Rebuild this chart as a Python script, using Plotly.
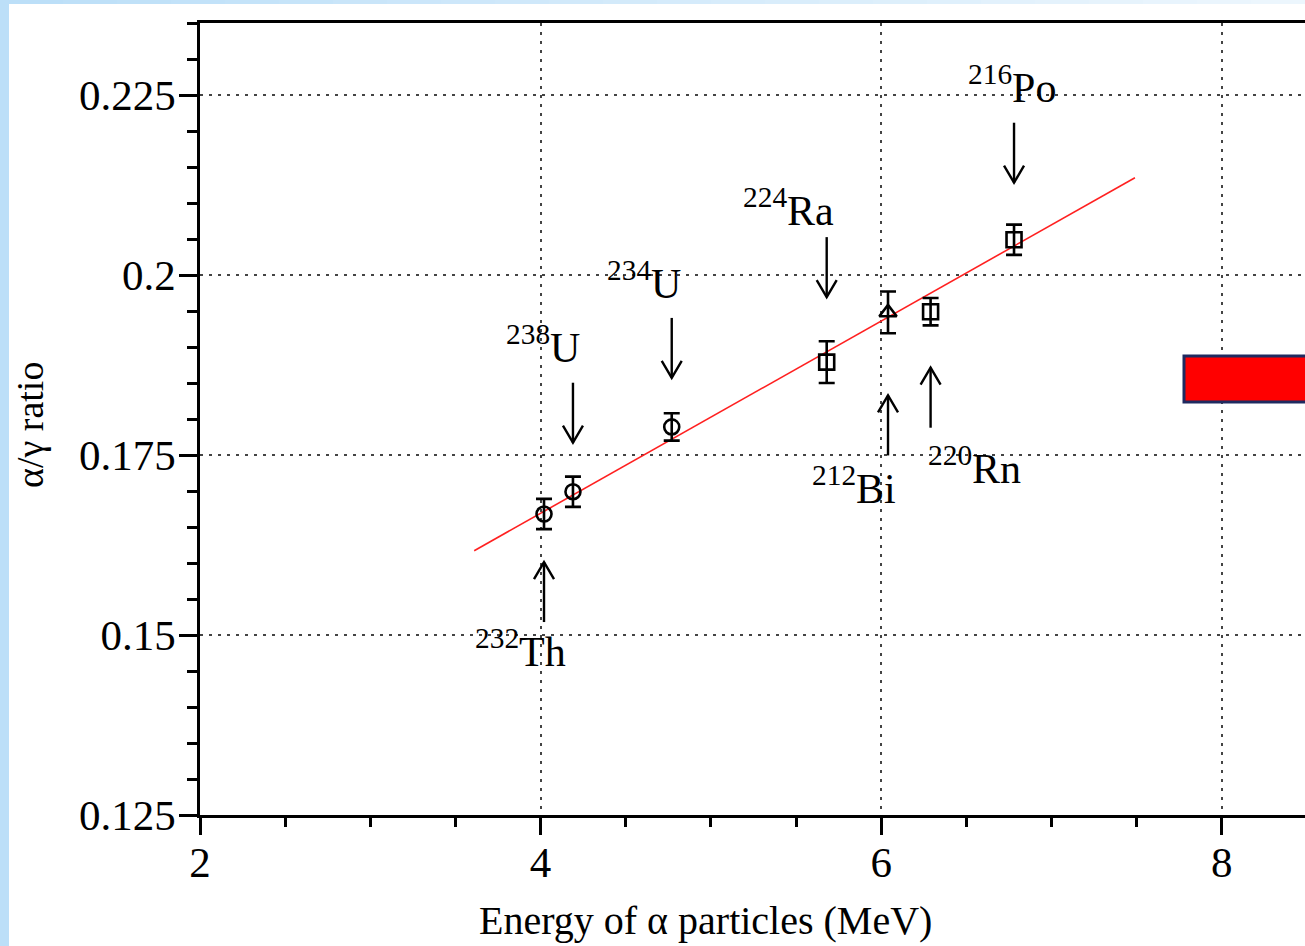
import plotly.graph_objects as go

# ---------------- data ----------------
mass_numbers = ["232", "238", "234", "224", "212", "220", "216"]
elements = ["Th", "U", "U", "Ra", "Bi", "Rn", "Po"]
energy_mev = [4.02, 4.19, 4.77, 5.68, 6.04, 6.29, 6.78]
ag_ratio = [0.1668, 0.1699, 0.1789, 0.1879, 0.1948, 0.1949, 0.2049]
ag_error = [0.0021, 0.0021, 0.0019, 0.0029, 0.0029, 0.0019, 0.0021]

fit_energy = [3.61, 7.49]
fit_ratio = [0.1617, 0.2135]

x_tick_values = [2, 4, 6, 8]
y_tick_values = [0.125, 0.15, 0.175, 0.2, 0.225]

# ---------------- styles / layout constants ----------------
W, H = 1305, 946
ML, MR, MT, MB = 200, 0, 23, 131
PW, PH = W - ML - MR, H - MT - MB
X_RANGE = [2, 2 + PW / 170.3]
Y_RANGE = [0.125, 0.235]
XPP = (X_RANGE[1] - X_RANGE[0]) / PW   # data per px
YPP = (Y_RANGE[1] - Y_RANGE[0]) / PH

marker_symbols = ["circle-open", "circle-open", "circle-open", "square-open",
                  "triangle-up-open", "square-open", "square-open"]
# arrow direction (+1 arrow points down onto point from above, -1 points up from below)
arrow_dir = [-1, 1, 1, 1, -1, -1, 1]
arrow_gap_px = [48, 49, 49, 65, 83, 56, 57]
ARROW_LEN = 60
HEAD_DX, HEAD_DY = 10, 17
# label offsets (px) relative to data point: (dx right, dy down)
label_offset_px = [(-24, 134), (-30, -147), (-28, -146), (-38, -155),
                   (-34, 173), (44, 154), (-2, -155)]

SERIF = "Liberation Serif, Times New Roman, serif"


def px_to_paper_x(px):
    return (px - ML) / PW


def px_to_paper_y(py):
    return (H - MB - py) / PH


fig = go.Figure()

# fit line
fig.add_trace(go.Scatter(x=fit_energy, y=fit_ratio, mode="lines",
                         line=dict(color="#ff2020", width=1.6),
                         hoverinfo="skip", showlegend=False))

# data points
fig.add_trace(go.Scatter(
    x=energy_mev, y=ag_ratio, mode="markers",
    marker=dict(symbol=marker_symbols, size=15, color="black",
                line=dict(color="black", width=2.6)),
    error_y=dict(type="data", array=ag_error, visible=True,
                 color="black", thickness=2.6, width=8),
    showlegend=False))

# arrows (shaft + open V head), built from the data positions
ax_pts, ay_pts = [], []
for e, r, d, gap in zip(energy_mev, ag_ratio, arrow_dir, arrow_gap_px):
    tip_y = r + d * gap * YPP
    tail_y = r + d * (gap + ARROW_LEN) * YPP
    head_y = tip_y + d * HEAD_DY * YPP
    ax_pts += [e, e, None, e - HEAD_DX * XPP, e, e + HEAD_DX * XPP, None]
    ay_pts += [tail_y, tip_y, None, head_y, tip_y, head_y, None]
fig.add_trace(go.Scatter(x=ax_pts, y=ay_pts, mode="lines",
                         line=dict(color="black", width=2.4),
                         hoverinfo="skip", showlegend=False))

annotations = []
for m, el, e, r, (dx, dy) in zip(mass_numbers, elements, energy_mev,
                                 ag_ratio, label_offset_px):
    annotations.append(dict(
        x=e, y=r, xref="x", yref="y", xshift=dx, yshift=-dy,
        text=f"<sup>{m}</sup>{el}", showarrow=False,
        xanchor="center", yanchor="middle",
        font=dict(family=SERIF, size=42, color="black")))

# axis titles
annotations.append(dict(
    x=px_to_paper_x(705), y=px_to_paper_y(920), xref="paper", yref="paper",
    text="Energy of α particles (MeV)", showarrow=False,
    xanchor="center", yanchor="middle",
    font=dict(family=SERIF, size=40, color="black")))
annotations.append(dict(
    x=px_to_paper_x(30), y=px_to_paper_y(425), xref="paper", yref="paper",
    text="α/γ ratio", showarrow=False, textangle=-90,
    xanchor="center", yanchor="middle",
    font=dict(family=SERIF, size=38, color="black")))

shapes = []
# light blue frame strips
shapes.append(dict(type="rect", xref="paper", yref="paper",
                   x0=px_to_paper_x(0), x1=px_to_paper_x(9),
                   y0=px_to_paper_y(H), y1=px_to_paper_y(0),
                   fillcolor="#bcdff8", line=dict(width=0), layer="below"))
n_seg = 24
for i in range(n_seg):
    t = i / (n_seg - 1)
    c0, c1 = (188, 223, 248), (236, 246, 253)
    col = "rgb({},{},{})".format(*[round(a + (b - a) * t) for a, b in zip(c0, c1)])
    shapes.append(dict(type="rect", xref="paper", yref="paper",
                       x0=px_to_paper_x(9 + (W - 9) * i / n_seg),
                       x1=px_to_paper_x(9 + (W - 9) * (i + 1) / n_seg + 1),
                       y0=px_to_paper_y(4), y1=px_to_paper_y(0),
                       fillcolor=col, line=dict(width=0), layer="below"))
# red box on the right
shapes.append(dict(type="rect", xref="paper", yref="paper",
                   x0=px_to_paper_x(1184), x1=px_to_paper_x(1320),
                   y0=px_to_paper_y(402), y1=px_to_paper_y(356),
                   fillcolor="#ff0000", line=dict(color="#1f2a60", width=3)))

fig.update_layout(
    width=W, height=H,
    margin=dict(l=ML, r=MR, t=MT, b=MB),
    paper_bgcolor="white", plot_bgcolor="white",
    showlegend=False,
    annotations=annotations, shapes=shapes,
    font=dict(family=SERIF, color="black"),
)

fig.update_xaxes(
    range=X_RANGE, tickvals=x_tick_values, ticktext=[str(v) for v in x_tick_values],
    ticks="outside", ticklen=17, tickwidth=3, tickcolor="black",
    tickfont=dict(family=SERIF, size=43, color="black"),
    ticklabelstandoff=-10,
    showline=True, linecolor="black", linewidth=3, mirror=True,
    showgrid=True, gridcolor="#444444", gridwidth=2, griddash="3px,6px",
    zeroline=False,
    minor=dict(dtick=0.5, tick0=2, ticks="outside", ticklen=9, tickwidth=3,
               tickcolor="black", showgrid=False),
)
fig.update_yaxes(
    range=Y_RANGE, tickvals=y_tick_values,
    ticktext=["0.125", "0.15", "0.175", "0.2", "0.225"],
    ticks="outside", ticklen=18, tickwidth=3, tickcolor="black",
    tickfont=dict(family=SERIF, size=43, color="black"),
    ticklabelstandoff=-5,
    showline=True, linecolor="black", linewidth=2.5, mirror=False,
    showgrid=True, gridcolor="#444444", gridwidth=2, griddash="3px,6px",
    zeroline=False,
    minor=dict(dtick=0.005, tick0=0.125, ticks="outside", ticklen=10, tickwidth=3,
               tickcolor="black", showgrid=False),
)

fig.write_html("out.html")
